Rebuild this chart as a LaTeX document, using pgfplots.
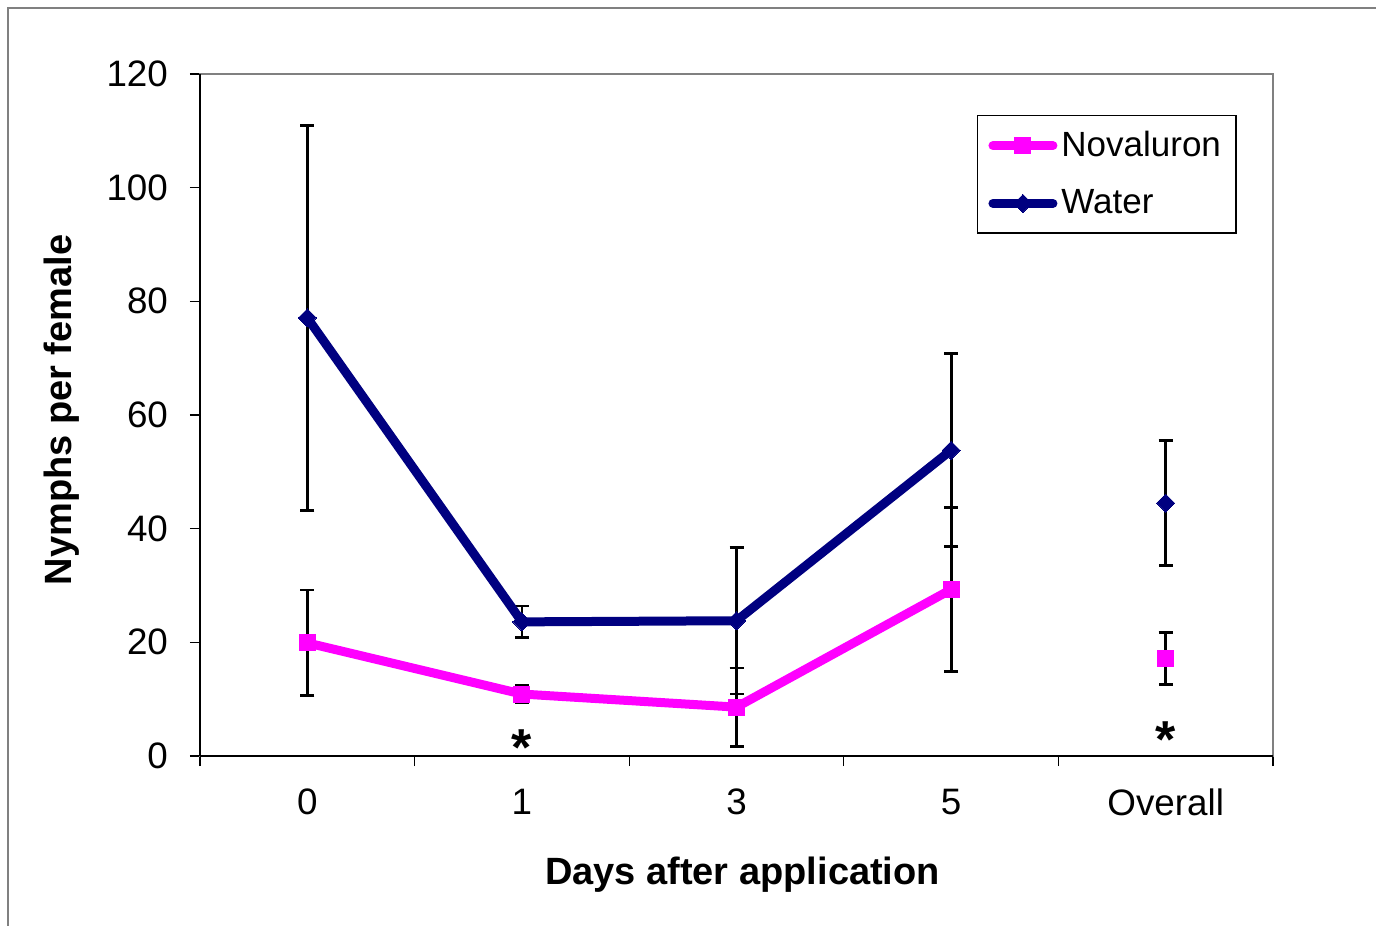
\documentclass[border=0pt]{standalone}
\usepackage{fontspec}
\setmainfont{Liberation Sans}
\usepackage{pgfplots}
\pgfplotsset{compat=1.18}
\definecolor{navyc}{RGB}{0,0,128}
\definecolor{magc}{RGB}{255,0,255}
\definecolor{framec}{RGB}{128,128,128}
\begin{document}
\begin{tikzpicture}
\useasboundingbox (0pt,0pt) rectangle (688pt,463pt);
\draw[framec, line width=0.8pt] (4pt,-5pt) -- (4pt,459pt) -- (700pt,459pt);
\begin{axis}[
  at={(100pt,85pt)}, anchor=south west,
  scale only axis, width=536.5pt, height=341pt,
  xmin=-0.5, xmax=4.5, ymin=0, ymax=120,
  ytick={0,20,...,120},
  xtick={-0.5,0.5,...,4.5}, xticklabels={},
  extra x ticks={0,1,2,3,4},
  extra x tick labels={0,1,3,5,Overall},
  extra x tick style={tick style={draw=none}},
  tick align=outside, major tick length=5pt,
  tick pos=left,
  tick style={black, line width=0.6pt},
  axis line style={draw=framec, line width=0.8pt},
  tick label style={font=\fontsize{18.4}{20}\selectfont},
  /pgf/number format/assume math mode=true,
  xticklabel style={yshift=-8pt},
  yticklabel style={xshift=-7.5pt},
  xlabel={\textbf{Days after application}},
  ylabel={\textbf{Nymphs per female}},
  label style={font=\fontsize{19}{22}\selectfont},
  xlabel style={yshift=-8.5pt, xshift=3pt},
  ylabel style={yshift=6.5pt, xshift=2.5pt},
  clip=false,
  legend cell align=left,
  legend style={at={(0.724,0.940)}, anchor=north west, draw=black, line width=0.6pt,
    font=\fontsize{17.5}{20}\selectfont,
    inner xsep=5.5pt, inner ysep=6pt, row sep=11pt},
  legend image code/.code={\draw[#1, line cap=round, mark repeat=2, mark phase=2] plot coordinates {(0pt,0pt) (15pt,0pt) (30pt,0pt)};},
]
% error bars
\addplot[draw=none, mark=none, forget plot,
  error bars/.cd, y dir=both, y explicit,
  error bar style={draw=black, line width=1.4pt},
  error mark options={rotate=90, draw=black, mark size=3.5pt, line width=1.4pt}]
coordinates {
 (0,77.1) +- (0,33.9)
 (1,23.6) +- (0,2.8)
 (2,23.8) +- (0,12.9)
 (3,53.8) +- (0,17.0)
 (4,44.5) +- (0,11.0)
 (0,19.9) +- (0,9.3)
 (1,10.9) +- (0,1.5)
 (2,8.6) +- (0,6.9)
 (3,29.3) +- (0,14.4)
 (4,17.2) +- (0,4.6)
};
% Novaluron
\addplot[magc, line width=4.5pt, mark=square*, mark size=4pt, mark options={solid, line width=0pt, fill=magc}]
coordinates {(0,19.9) (1,10.9) (2,8.6) (3,29.3)};
\addlegendentry{Novaluron}
% Water
\addplot[navyc, line width=4.5pt, mark=square*, mark size=3.2pt, mark options={rotate=45, line width=0pt, fill=navyc}]
coordinates {(0,77.1) (1,23.6) (2,23.8) (3,53.8)};
\addlegendentry{Water}
% Overall points
\addplot[magc, only marks, forget plot, mark=square*, mark size=4pt, mark options={line width=0pt, fill=magc}]
coordinates {(4,17.2)};
\addplot[navyc, only marks, forget plot, mark=square*, mark size=3.2pt, mark options={rotate=45, line width=0pt, fill=navyc}]
coordinates {(4,44.5)};
% significance asterisks
\node[font=\bfseries\fontsize{26}{26}\selectfont] at (axis cs:1,1.5) {*};
\node[font=\bfseries\fontsize{26}{26}\selectfont] at (axis cs:4,2.8) {*};
% left and bottom axis lines in black
\draw[black, line width=0.8pt] (rel axis cs:0,0) -- (rel axis cs:0,1);
\draw[black, line width=0.8pt] (rel axis cs:0,0) -- (rel axis cs:1,0);
\end{axis}
\end{tikzpicture}
\end{document}
